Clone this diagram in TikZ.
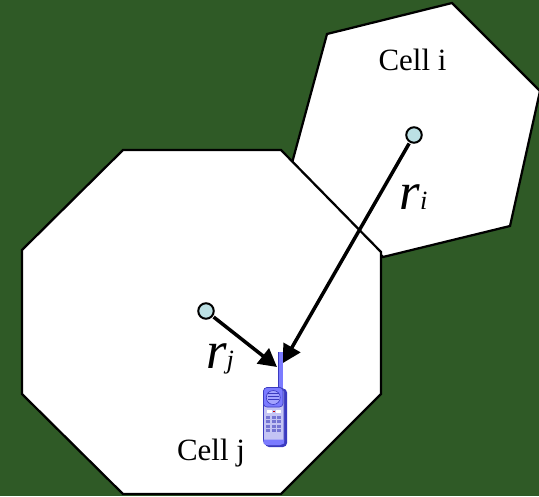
\documentclass[tikz,border=0pt]{standalone}
\usepackage{fontspec}
\setmainfont{Liberation Serif}
\usepackage{tikz}
\usetikzlibrary{arrows.meta,positioning,calc}

\definecolor{bggreen}{HTML}{2F5A26}
\definecolor{bsblue}{HTML}{BCE0E4}
\definecolor{phoneblue}{HTML}{7B7BFF}
\definecolor{phonepale}{HTML}{C4C4F4}
\definecolor{phonedark}{HTML}{3A3AC0}

\begin{document}
\begin{tikzpicture}[
  cell/.style={draw=black, fill=white, line width=0.045cm, line join=miter},
  bs/.style={draw=black, fill=bsblue, circle, line width=0.04cm, minimum size=0.31cm, inner sep=0pt},
  ar/.style={-{Triangle[length=0.36cm, width=0.38cm]}, line width=0.07cm, shorten <=0.02cm},
  celltext/.style={font=\fontsize{17.6}{20}\selectfont, inner sep=0pt},
  rtext/.style={font=\fontsize{30}{32}\selectfont, inner sep=0pt},
  phonepart/.style={draw=phonedark, line width=0.012cm},
]

\useasboundingbox (0,0) rectangle (10.78,9.92);

% background
\fill[bggreen] (0,0) rectangle (10.78,9.92);

%-- cells
\draw[cell] (6.54,9.24) -- (9.04,9.86) -- (10.80,8.10) -- (10.20,5.40)
  -- (7.66,4.78) -- (5.84,6.66) -- cycle;
\draw[cell] (2.46,6.92) -- (5.62,6.92) -- (7.62,4.88) -- (7.62,2.04)
  -- (5.62,0.04) -- (2.46,0.04) -- (0.44,2.04) -- (0.44,4.92) -- cycle;

%-- phone
\fill[phoneblue] (5.56,2.88) rectangle (5.65,2.10);
\draw[phonedark, line width=0.012cm] (5.56,2.88) -- (5.56,2.10);
\begin{scope}[yshift=0.13cm]
  \fill[phonedark, rounded corners=0.08cm] (5.30,2.02) rectangle (5.74,0.85);
  \draw[phonepart, fill=phonepale, rounded corners=0.08cm] (5.27,2.04) rectangle (5.68,0.89);
  \draw[phonepart, fill=phoneblue, rounded corners=0.07cm] (5.27,2.04) rectangle (5.66,1.65);
  \draw[phonepart, fill=phoneblue!70!white] (5.465,1.84) circle (0.14cm);
  \foreach \y in {1.80,1.86,1.92}
    \draw[phonedark, line width=0.01cm] (5.36,\y) -- (5.57,\y);
  \fill[white] (5.34,1.60) rectangle (5.44,1.53);
  \fill[white] (5.52,1.60) rectangle (5.62,1.53);
  \fill[red!80!black] (5.45,1.58) rectangle (5.50,1.55);
  \foreach \y in {1.45,1.36,1.27,1.18}
    \foreach \x in {5.36,5.47,5.58}
      \fill[phonedark!70!white] (\x-0.04,\y-0.03) rectangle (\x+0.04,\y+0.03);
  \fill[phoneblue] (5.27,1.00) -- (5.68,1.00) -- (5.68,0.92) -- (5.60,0.89)
    -- (5.33,0.89) -- (5.27,0.92) -- cycle;
\end{scope}
\coordinate (tipj) at (5.54,2.58);
\coordinate (tipi) at (5.66,2.66);

%-- base stations
\node[bs] (bsi) at (8.28,7.22) {};
\node[bs] (bsj) at (4.12,3.70) {};

%-- distances
\draw[ar] (bsi) -- (tipi);
\draw[ar] (bsj) -- (tipj);

%-- labels
\node[celltext] (celli) at (8.25,8.72) {Cell i};
\node[celltext] (cellj) at (4.22,0.86) {Cell j};
\node[rtext] (ri) at (8.27,5.98) {\textit{r}{\fontsize{15}{16}\selectfont\textit{i}}};
\node[rtext] (rj) at (4.40,2.74) {\textit{r}{\fontsize{15}{16}\selectfont\textit{j}}};
\end{tikzpicture}
\end{document}
